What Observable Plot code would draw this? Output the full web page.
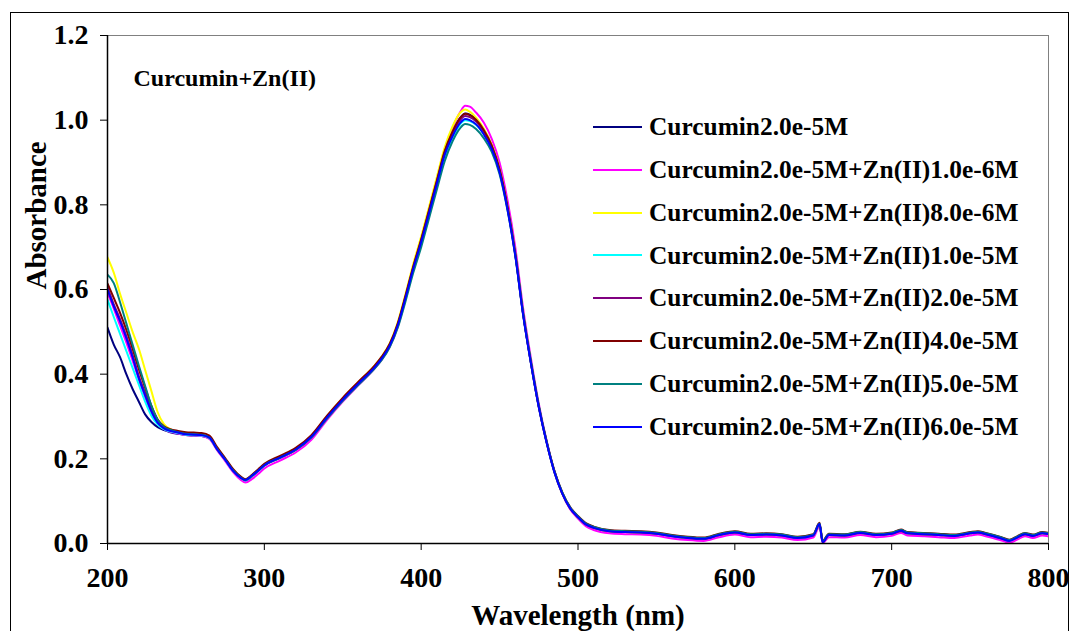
<!DOCTYPE html>
<html>
<head>
<meta charset="utf-8">
<script src="https://cdn.jsdelivr.net/npm/d3@7"></script>
<script src="https://cdn.jsdelivr.net/npm/@observablehq/plot@0.6"></script>
<style>
  body { margin: 0; background: #fff; }
  #wrap { position: relative; width: 1074px; height: 631px; overflow: hidden;
          font-family: "Liberation Serif", "Times New Roman", serif; font-weight: bold; }
  #wrap svg { position: absolute; left: 0; top: 0; }
  #border { position: absolute; left: 10px; top: 12px; width: 1059px; height: 640px;
            border: 1.5px solid #000; box-sizing: border-box; pointer-events: none; }
  #legend { position: absolute; left: 593px; top: 105.6px; }
  .row { display: flex; align-items: center; height: 42.8px; }
  .sw { width: 49px; height: 2px; margin-right: 7px; }
  .lab { font-family: "Liberation Serif", "Times New Roman", serif; font-size: 25.4px; line-height: 1; color: #000; white-space: nowrap; }
</style>
</head>
<body>
<div id="wrap"><div id="border"></div></div>
<script>
// Wavelength grid (nm) shared by every spectrum
const wavelengths = [200,204,208,212,216,220,224,228,232,236,240,245,250,255,260,265,270,275,280,285,288,292,296,300,
  310,320,330,340,350,360,370,375,380,385,390,395,400,405,410,415,420,425,428,431,435,
  440,445,450,455,460,465,470,475,480,485,490,495,500,505,510,
  520,530,540,550,560,570,580,590,600,610,620,630,640,650,654,656,660,670,680,690,700,
  706,710,720,730,740,750,755,760,770,775,780,785,790,796,800];

const seriesNames = [
  "Curcumin2.0e-5M",
  "Curcumin2.0e-5M+Zn(II)1.0e-6M",
  "Curcumin2.0e-5M+Zn(II)8.0e-6M",
  "Curcumin2.0e-5M+Zn(II)1.0e-5M",
  "Curcumin2.0e-5M+Zn(II)2.0e-5M",
  "Curcumin2.0e-5M+Zn(II)4.0e-5M",
  "Curcumin2.0e-5M+Zn(II)5.0e-5M",
  "Curcumin2.0e-5M+Zn(II)6.0e-5M"
];
const seriesColors = ["#000080","#FF00FF","#FFFF00","#00FFFF","#800080","#800000","#008080","#0000FF"];

// Absorbance of each solution, one value per wavelength above
const absCurcumin = [0.510,0.470,0.440,0.400,0.365,0.335,0.305,0.287,0.275,0.268,0.263,0.259,0.256,0.255,0.254,0.248,0.221,0.197,0.171,0.154,0.148,0.158,0.171,0.184,
  0.202,0.221,0.251,0.297,0.339,0.377,0.414,0.437,0.467,0.514,0.580,0.651,0.714,0.784,0.855,0.926,0.972,1.006,1.016,1.013,1.002,
  0.977,0.940,0.883,0.795,0.684,0.543,0.427,0.323,0.239,0.168,0.118,0.083,0.062,0.045,0.037,
  0.029,0.027,0.026,0.023,0.017,0.012,0.011,0.019,0.025,0.020,0.021,0.018,0.013,0.019,0.044,0.004,0.020,0.018,0.025,0.020,0.023,
  0.029,0.024,0.021,0.020,0.018,0.024,0.025,0.022,0.012,0.007,0.014,0.021,0.018,0.024,0.022];

const absZn1e6 = [0.592,0.555,0.515,0.475,0.432,0.388,0.345,0.308,0.283,0.270,0.264,0.260,0.256,0.255,0.254,0.247,0.220,0.195,0.169,0.150,0.144,0.152,0.164,0.177,
  0.196,0.215,0.245,0.292,0.335,0.374,0.412,0.435,0.465,0.511,0.577,0.648,0.712,0.784,0.857,0.930,0.982,1.020,1.034,1.032,1.018,
  0.994,0.956,0.900,0.812,0.700,0.556,0.437,0.330,0.243,0.171,0.118,0.081,0.059,0.041,0.032,
  0.024,0.022,0.021,0.018,0.012,0.008,0.006,0.015,0.021,0.015,0.016,0.014,0.008,0.014,0.040,0.001,0.015,0.014,0.020,0.015,0.018,
  0.025,0.019,0.017,0.015,0.013,0.019,0.021,0.017,0.007,0.002,0.009,0.017,0.013,0.019,0.017];

const absZn8e6 = [0.676,0.640,0.590,0.545,0.500,0.460,0.410,0.360,0.310,0.282,0.270,0.263,0.258,0.257,0.256,0.250,0.224,0.200,0.175,0.157,0.151,0.161,0.173,0.186,
  0.205,0.224,0.254,0.301,0.343,0.381,0.419,0.442,0.473,0.522,0.589,0.661,0.725,0.795,0.866,0.936,0.985,1.018,1.025,1.020,1.006,
  0.980,0.942,0.885,0.797,0.685,0.544,0.428,0.324,0.239,0.169,0.118,0.083,0.062,0.045,0.037,
  0.029,0.027,0.026,0.023,0.018,0.013,0.012,0.020,0.026,0.021,0.021,0.019,0.014,0.019,0.045,0.004,0.020,0.019,0.025,0.021,0.023,
  0.030,0.024,0.022,0.020,0.019,0.024,0.026,0.022,0.013,0.007,0.014,0.022,0.018,0.024,0.022];

const absZn1e5 = [0.576,0.535,0.495,0.455,0.415,0.375,0.335,0.302,0.281,0.270,0.265,0.261,0.257,0.256,0.255,0.249,0.222,0.198,0.172,0.155,0.149,0.159,0.171,0.184,
  0.203,0.222,0.252,0.298,0.340,0.378,0.415,0.438,0.468,0.514,0.578,0.647,0.708,0.776,0.845,0.912,0.958,0.991,1.000,0.998,0.989,
  0.967,0.934,0.880,0.795,0.686,0.546,0.430,0.326,0.241,0.170,0.119,0.084,0.063,0.046,0.038,
  0.030,0.028,0.027,0.024,0.018,0.014,0.012,0.021,0.027,0.021,0.022,0.020,0.014,0.020,0.045,0.005,0.021,0.020,0.027,0.021,0.024,
  0.031,0.025,0.023,0.021,0.019,0.025,0.027,0.023,0.013,0.007,0.015,0.023,0.019,0.025,0.023];

const absZn2e5 = [0.605,0.565,0.530,0.490,0.445,0.395,0.355,0.315,0.287,0.273,0.267,0.263,0.259,0.258,0.257,0.251,0.223,0.199,0.173,0.156,0.150,0.160,0.172,0.185,
  0.204,0.223,0.253,0.299,0.341,0.379,0.416,0.439,0.469,0.516,0.582,0.652,0.716,0.785,0.855,0.924,0.969,1.001,1.010,1.007,0.997,
  0.972,0.937,0.881,0.794,0.683,0.542,0.426,0.323,0.239,0.169,0.118,0.083,0.062,0.045,0.037,
  0.029,0.027,0.026,0.023,0.018,0.013,0.011,0.020,0.026,0.021,0.021,0.019,0.014,0.019,0.045,0.004,0.020,0.019,0.025,0.021,0.023,
  0.029,0.024,0.022,0.020,0.018,0.024,0.026,0.022,0.012,0.007,0.014,0.022,0.018,0.024,0.022];

const absZn4e5 = [0.614,0.580,0.545,0.505,0.460,0.412,0.368,0.325,0.293,0.277,0.270,0.266,0.263,0.262,0.261,0.255,0.227,0.202,0.176,0.158,0.152,0.162,0.175,0.188,
  0.207,0.226,0.256,0.302,0.344,0.382,0.419,0.442,0.472,0.519,0.585,0.655,0.718,0.787,0.857,0.927,0.973,1.006,1.015,1.012,1.001,
  0.976,0.940,0.884,0.797,0.686,0.545,0.429,0.325,0.241,0.171,0.121,0.086,0.065,0.048,0.040,
  0.032,0.030,0.029,0.026,0.020,0.016,0.014,0.023,0.029,0.023,0.024,0.022,0.016,0.022,0.049,0.006,0.023,0.022,0.028,0.023,0.026,
  0.033,0.027,0.025,0.023,0.021,0.027,0.029,0.025,0.015,0.009,0.017,0.025,0.021,0.027,0.025];

const absZn5e5 = [0.635,0.615,0.570,0.520,0.470,0.420,0.372,0.325,0.292,0.275,0.268,0.263,0.259,0.258,0.257,0.250,0.223,0.199,0.173,0.156,0.150,0.160,0.172,0.185,
  0.203,0.221,0.250,0.295,0.337,0.375,0.412,0.434,0.464,0.509,0.572,0.640,0.700,0.768,0.836,0.903,0.950,0.982,0.991,0.989,0.979,
  0.957,0.925,0.872,0.788,0.680,0.542,0.427,0.324,0.240,0.170,0.120,0.085,0.064,0.047,0.039,
  0.031,0.029,0.028,0.025,0.019,0.015,0.013,0.022,0.028,0.022,0.023,0.021,0.015,0.021,0.047,0.005,0.022,0.021,0.027,0.022,0.025,
  0.032,0.026,0.024,0.022,0.020,0.026,0.028,0.024,0.014,0.008,0.016,0.024,0.020,0.026,0.024];

const absZn6e5 = [0.600,0.560,0.525,0.485,0.440,0.390,0.350,0.312,0.285,0.272,0.266,0.262,0.258,0.257,0.256,0.250,0.222,0.198,0.172,0.155,0.150,0.160,0.172,0.185,
  0.203,0.222,0.252,0.298,0.340,0.378,0.415,0.438,0.468,0.515,0.580,0.650,0.712,0.780,0.850,0.918,0.962,0.994,1.003,1.000,0.990,
  0.966,0.932,0.877,0.790,0.680,0.540,0.425,0.322,0.238,0.168,0.118,0.083,0.062,0.045,0.037,
  0.029,0.027,0.026,0.023,0.017,0.013,0.011,0.020,0.026,0.020,0.021,0.019,0.013,0.019,0.046,0.003,0.020,0.019,0.025,0.020,0.023,
  0.030,0.024,0.022,0.020,0.018,0.024,0.026,0.022,0.012,0.006,0.014,0.022,0.018,0.024,0.022];

const xTicks = [200, 300, 400, 500, 600, 700, 800];
const yTicks = [0, 0.2, 0.4, 0.6, 0.8, 1.0, 1.2];
const titleText = "Curcumin+Zn(II)";
const xLabel = "Wavelength (nm)";
const yLabel = "Absorbance";

const seriesValues = [absCurcumin, absZn1e6, absZn8e6, absZn1e5, absZn2e5, absZn4e5, absZn5e5, absZn6e5];
const rows = seriesNames.flatMap((name, k) =>
  wavelengths.map((wl, i) => ({wl, a: seriesValues[k][i], name})));

const serif = "'Liberation Serif', 'Times New Roman', serif";

const chart = Plot.plot({
  width: 1074,
  height: 631,
  marginLeft: 107,
  marginRight: 26,
  marginTop: 35,
  marginBottom: 88,
  style: {fontFamily: serif, fontWeight: "bold", fontSize: "28px", background: "transparent", color: "#000"},
  x: {domain: [200, 800]},
  y: {domain: [0, 1.2]},
  color: {domain: seriesNames, range: seriesColors},
  marks: [
    Plot.frame({stroke: "#808080", strokeWidth: 1}),
    Plot.line(rows, {x: "wl", y: "a", z: "name", stroke: "name", strokeWidth: 2, curve: "monotone-x", clip: true}),
    Plot.ruleX([200], {stroke: "#000", strokeWidth: 1.5}),
    Plot.ruleY([0], {stroke: "#000", strokeWidth: 1.5}),
    Plot.axisX({ticks: xTicks, tickSize: 7, tickPadding: 17, label: null, tickFormat: d => String(d), stroke: "#000", fontFamily: serif}),
    Plot.axisY({ticks: yTicks, tickSize: 7, tickPadding: 12, label: null, tickFormat: d3.format(".1f"), stroke: "#000", fontFamily: serif}),
    Plot.text([xLabel], {frameAnchor: "bottom", lineAnchor: "middle", dy: 72, fontSize: 29, fontFamily: serif, fontWeight: "bold"}),
    Plot.text([yLabel], {frameAnchor: "left", lineAnchor: "middle", dx: -71, rotate: -90, fontSize: 29, fontFamily: serif, fontWeight: "bold"}),
    Plot.text([titleText], {frameAnchor: "top-left", lineAnchor: "middle", textAnchor: "start", dx: 26, dy: 43, fontSize: 24, fontFamily: serif, fontWeight: "bold"})
  ]
});

const wrap = document.getElementById("wrap");
wrap.insertBefore(chart, wrap.firstChild);

// Legend block to the right of the peak
const legend = d3.select(wrap).append("div").attr("id", "legend");
seriesNames.forEach((name, k) => {
  const row = legend.append("div").attr("class", "row");
  row.append("div").attr("class", "sw").style("background", seriesColors[k]);
  row.append("div").attr("class", "lab").text(name);
});
</script>
</body>
</html>
